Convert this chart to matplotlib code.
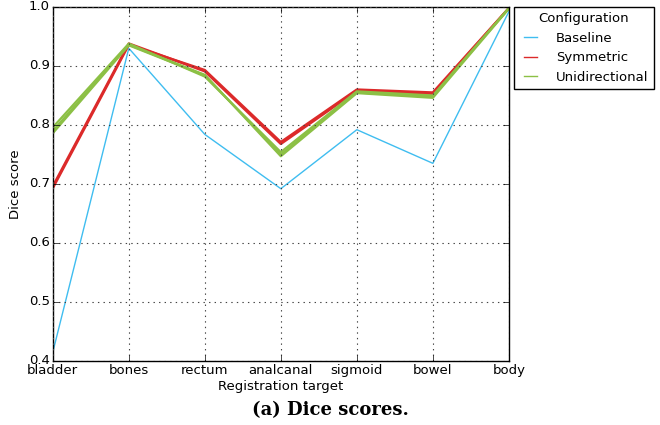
import numpy as np
import matplotlib
matplotlib.use("Agg")
import matplotlib.pyplot as plt

targets = ["bladder", "bones", "rectum", "analcanal", "sigmoid", "bowel", "body"]

baseline = [0.415, 0.930, 0.784, 0.692, 0.792, 0.735, 0.992]
symmetric_a = [0.693, 0.936, 0.893, 0.771, 0.860, 0.855, 0.998]
symmetric_b = [0.696, 0.938, 0.891, 0.768, 0.858, 0.853, 0.998]
unidir_a = [0.786, 0.935, 0.884, 0.750, 0.855, 0.848, 0.998]
unidir_b = [0.796, 0.938, 0.882, 0.754, 0.857, 0.850, 0.998]
unidir_c = [0.790, 0.936, 0.885, 0.747, 0.854, 0.846, 0.997]

yticks = [0.4, 0.5, 0.6, 0.7, 0.8, 0.9, 1.0]

plt.style.use("classic")
plt.rcParams["font.family"] = "DejaVu Sans"

fig = plt.figure(figsize=(6.6, 4.25), dpi=100, facecolor="white")
ax = fig.add_axes([0.080, 0.1506, 0.691, 0.833])

x = np.arange(len(targets))
ax.plot(x, baseline, color="#3fbdf0", lw=1.0, label="Baseline")
ax.plot(x, symmetric_a, color="#dc2a2a", lw=1.8, label="Symmetric")
ax.plot(x, symmetric_b, color="#dc2a2a", lw=1.8)
ax.plot(x, unidir_a, color="#8cc045", lw=1.6, label="Unidirectional")
ax.plot(x, unidir_b, color="#8cc045", lw=1.6)
ax.plot(x, unidir_c, color="#8cc045", lw=1.6)

ax.set_xlim(0, len(targets) - 1)
ax.set_ylim(0.4, 1.0)
ax.set_xticks(x)
ax.set_xticklabels(targets)
ax.set_yticks(yticks)
ax.tick_params(labelsize=9.5, pad=2)
ax.grid(True, color="#444444", linestyle=":", linewidth=0.8)
ax.set_xlabel("Registration target", fontsize=9.5, labelpad=2)
ax.set_ylabel("Dice score", fontsize=9.5)

leg = ax.legend(title="Configuration", loc="upper left", bbox_to_anchor=(1.012, 1.0),
                fontsize=9.5, fancybox=False, borderaxespad=0.0,
                handlelength=1.6, handletextpad=1.15)
leg.get_title().set_fontsize(9.5)
for line in leg.get_lines():
    line.set_linewidth(1.0)

fig.text(0.5, 0.035, "(a) Dice scores.", ha="center", va="center",
         fontsize=13, fontweight="bold", family="DejaVu Serif")

fig.savefig("out.png", dpi=100, facecolor="white")
